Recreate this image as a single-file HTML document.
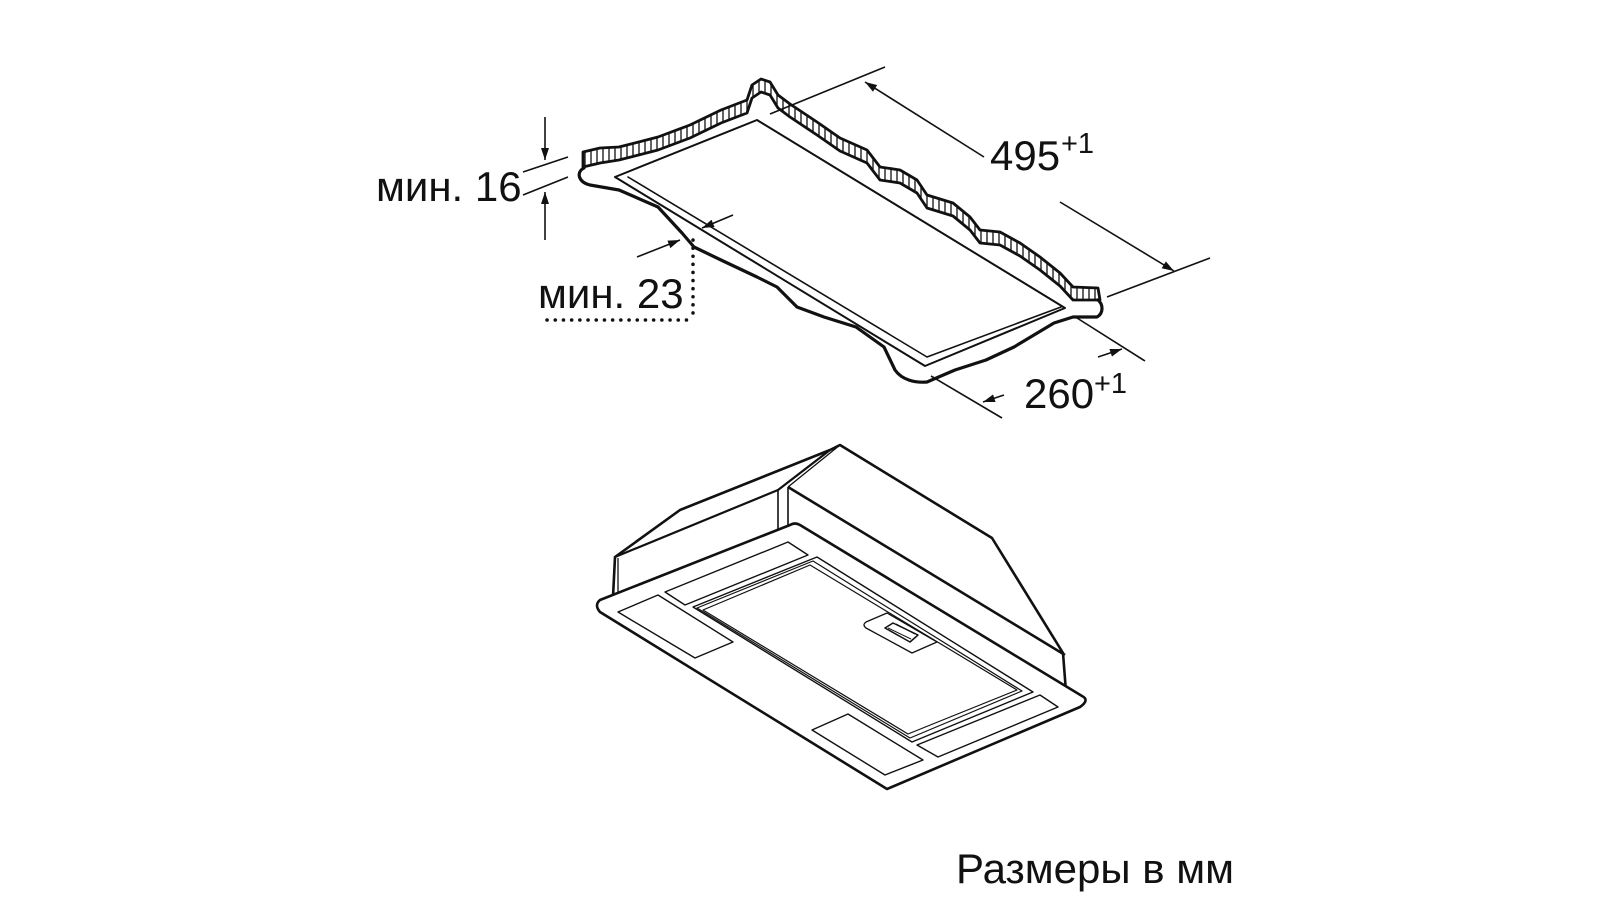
<!DOCTYPE html>
<html><head><meta charset="utf-8"><style>
html,body{margin:0;padding:0;background:#fff;}
svg{display:block;}
text{font-family:"Liberation Sans",sans-serif;fill:#111;}
</style></head><body>
<svg width="1600" height="900" viewBox="0 0 1600 900" xmlns="http://www.w3.org/2000/svg">
<defs>
<pattern id="hatch" width="6" height="10" patternUnits="userSpaceOnUse">
<rect width="6" height="10" fill="#fff"/>
<line x1="3" y1="0" x2="3" y2="10" stroke="#111" stroke-width="1.3"/>
</pattern>
<marker id="ar" viewBox="0 0 12 8" refX="12" refY="4" markerWidth="12" markerHeight="8" markerUnits="userSpaceOnUse" orient="auto">
<path d="M0,0 L12,4 L0,8 z" fill="#111"/>
</marker>
</defs>

<g stroke="#111" fill="none" stroke-linejoin="round" stroke-linecap="round">
<path d="M583,152 L600,148 619,147 658,137 690,125 721,110 747,100 752,85 761,79 770,82 778,95 790,104 817,122 840,138 867,150 880,167 900,170 917,180 927,195 953,203 970,217 980,230 1000,232 1020,243 1040,257 1060,273 1073,287 1098,288 1101,300 1101,313 1097,317 1073,317 1054,323 1014,347 986,360 955,370 927,382 895,370 884,347 856,327 824,317 797,307 777,287 757,277 721,260 694,247 682,233 658,207 619,190 587,183 578,172 z" fill="#fff" stroke="none"/>
<path d="M583,152 L600,148 619,147 658,137 690,125 721,110 747,100 752,85 761,79 770,82 778,95 790,104 817,122 840,138 867,150 880,167 900,170 917,180 927,195 953,203 970,217 980,230 1000,232 1020,243 1040,257 1060,273 1073,287 1098,288 1100,300 1073,300 1060,286 1040,270 1020,256 1000,245 980,243 970,230 953,216 927,208 917,193 900,183 880,180 867,163 840,151 817,135 790,117 778,108 770,95 761,92 752,98 747,113 721,123 690,138 658,150 619,160 600,163 583,167 z" fill="url(#hatch)" stroke-width="2.8"/>
<path d="M584,168 C576,172 578,182 590,185 L619,190 658,207 682,233 694,247 721,260 757,277 777,287 797,307 824,317 856,327 884,347 895,370 C902,380 915,383 927,382 L955,370 986,360 1014,347 1054,323 1073,317 1097,317 C1104,313 1103,304 1098,300" stroke-width="3.2"/>
<path d="M615,177 L757,120 1065,308 925,366 z" stroke-width="2"/>
<path d="M628,177 L927,357 1061,307" stroke-width="1.6"/>
</g>

<g stroke="#111" stroke-width="1.6" fill="none">
<line x1="523" y1="172" x2="568" y2="157"/>
<line x1="523" y1="195" x2="568" y2="177"/>
<line x1="545" y1="117" x2="545" y2="160" marker-end="url(#ar)"/>
<line x1="545" y1="240" x2="545" y2="192" marker-end="url(#ar)"/>
</g>
<text x="376" y="201" font-size="42">мин. 16</text>

<g stroke="#111" stroke-width="1.6" fill="none">
<line x1="637" y1="257" x2="680" y2="240" marker-end="url(#ar)"/>
<line x1="733" y1="215" x2="702" y2="228" marker-end="url(#ar)"/>
<line x1="693" y1="240" x2="693" y2="320" stroke-width="3.5" stroke-dasharray="0.1 8" stroke-linecap="round"/>
<line x1="547" y1="320" x2="693" y2="320" stroke-width="3.5" stroke-dasharray="0.1 8.1" stroke-linecap="round"/>
</g>
<text x="538" y="308" font-size="42">мин. 23</text>

<g stroke="#111" stroke-width="1.6" fill="none">
<line x1="770" y1="114" x2="885" y2="67"/>
<line x1="1107" y1="297" x2="1210" y2="258"/>
<line x1="984" y1="157" x2="865" y2="82" marker-end="url(#ar)"/>
<line x1="1060" y1="202" x2="1174" y2="271" marker-end="url(#ar)"/>
</g>
<text x="990" y="170" font-size="42">495</text>
<text x="1061" y="153" font-size="29">+1</text>

<g stroke="#111" stroke-width="1.6" fill="none">
<line x1="931" y1="376" x2="1002" y2="418"/>
<line x1="1077" y1="318" x2="1145" y2="361"/>
<line x1="1004" y1="395" x2="983" y2="402" marker-end="url(#ar)"/>
<line x1="1098" y1="357" x2="1122" y2="349" marker-end="url(#ar)"/>
</g>
<text x="1024" y="408" font-size="42">260</text>
<text x="1094" y="393" font-size="29">+1</text>

<g stroke="#111" fill="none" stroke-linejoin="round">
<path d="M613,597 L615,557 680,510 830,450 840,445 992,538 1063,653 1066,692" stroke-width="2.6" fill="#fff"/>
<path d="M618,597 L618,558" stroke-width="1.3"/>
<path d="M615,557 L778,490 L830,450" stroke-width="2.2"/>
<path d="M788,487 L840,445" stroke-width="1.3"/>
<path d="M788,487 L1065,655" stroke-width="2.6"/>
<path d="M778,490 L778,531 M788,487 L788,527" stroke-width="1.6"/>
<path d="M600,600 Q594,605 600,612 L887,789 1080,707 Q1090,700 1082,696 L800,525 Q795,522 790,525 z" fill="#fff" stroke-width="2.6"/>
<path d="M665,592 L788,542 808,555 685,605 z" stroke-width="1.4"/>
<path d="M618,612 L658,595 733,642 695,658 z" stroke-width="1.4"/>
<path d="M693,607 L817,557 1033,692 912,742 z" stroke-width="1.4"/>
<path d="M697,608 L813,561 1022,691 910,738 z" stroke-width="1.2"/>
<path d="M703,610 L810,565 1017,690 908,734 z" stroke-width="1.2"/>
<path d="M812,730 L848,714 923,760 885,775 z" stroke-width="1.4"/>
<path d="M917,745 L1040,695 1058,707 938,757 z" stroke-width="1.4"/>
<path d="M866,622 Q862,625 866,628 L912,653 937,642 887,613 z" stroke-width="1.3" fill="#fff"/>
<path d="M885,628 L893,623 918,635 910,642 z" stroke-width="1.5"/>
<path d="M888,628 L911,639 M896,624 L915,634" stroke-width="1"/>
</g>

<text x="956" y="883" font-size="42">Размеры в мм</text>
</svg>
</body></html>
